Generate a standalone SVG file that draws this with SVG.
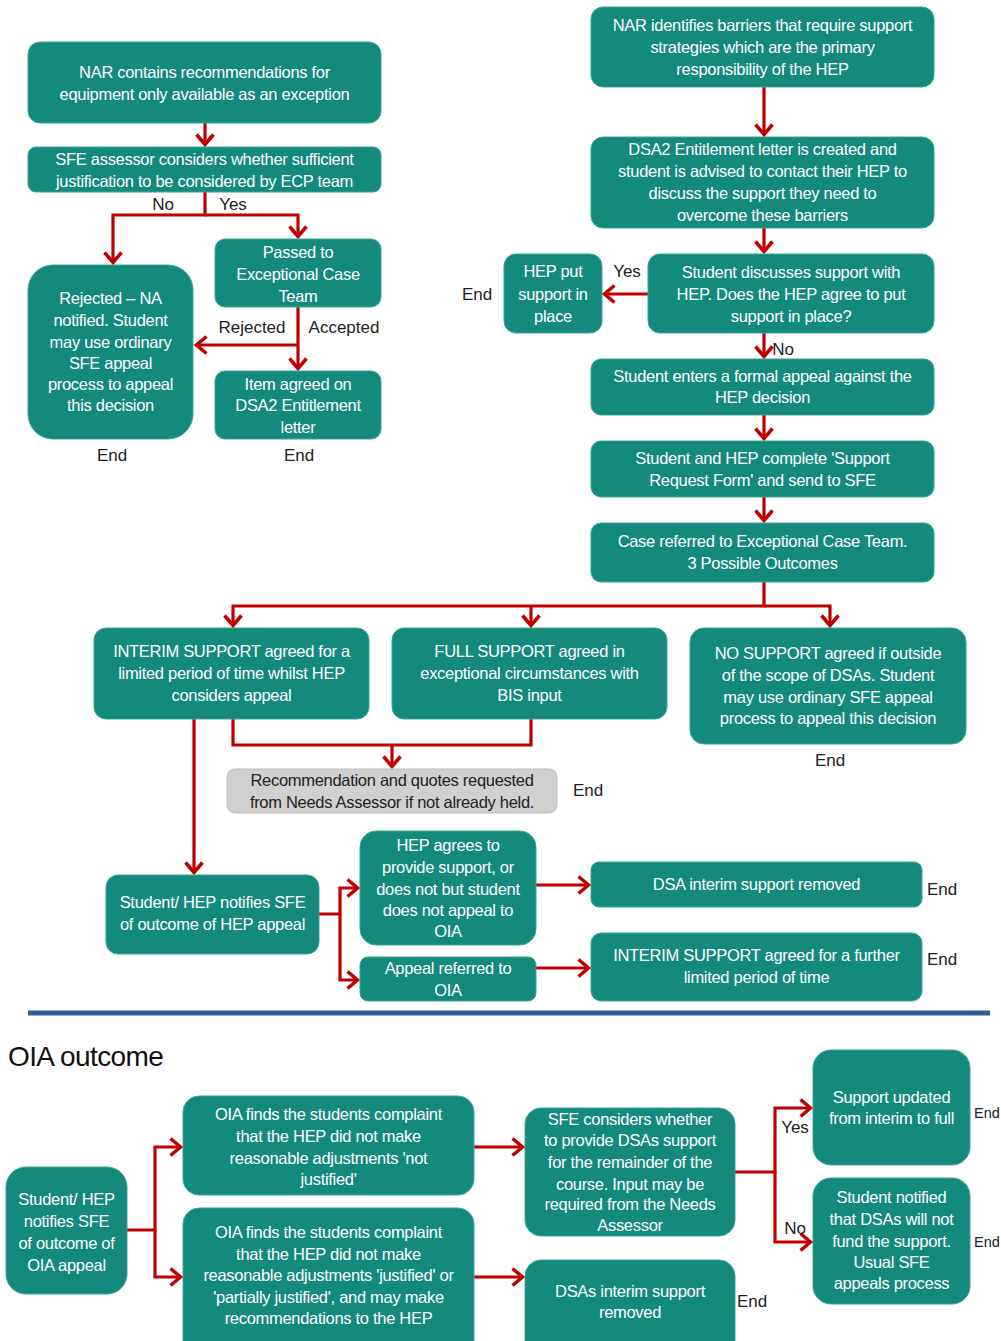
<svg xmlns="http://www.w3.org/2000/svg" width="1001" height="1341" viewBox="0 0 1001 1341">
<defs>
<marker id="arr" viewBox="0 0 15 20" markerWidth="15" markerHeight="20" refX="12.5" refY="10" orient="auto" markerUnits="userSpaceOnUse">
<path d="M2,1.5 L12,10 L2,18.5" fill="none" stroke="#C00000" stroke-width="3.5"/>
</marker>
</defs>
<style>
.b{fill:#138A7C;stroke:#3AA597;stroke-width:1}
.g{fill:#D0D0D0;stroke:#BDBDBD;stroke-width:1}
.t{font-family:"Liberation Sans",Arial,sans-serif;font-size:16.5px;fill:#FFFFFF;text-anchor:middle;letter-spacing:-0.3px}
.d{font-family:"Liberation Sans",Arial,sans-serif;font-size:16.5px;fill:#222222;text-anchor:middle;letter-spacing:-0.3px}
.l{font-family:"Liberation Sans",Arial,sans-serif;font-size:17px;fill:#222222;text-anchor:middle}
.c{fill:none;stroke:#C00000;stroke-width:3.2}
</style>
<rect width="1001" height="1341" fill="#FFFFFF"/>

<g id="connectors">
<path class="c" d="M205,123 V145" marker-end="url(#arr)"/>
<path class="c" d="M205,192 V215 H113 V263" marker-end="url(#arr)"/>
<path class="c" d="M205,215 H298 V237" marker-end="url(#arr)"/>
<path class="c" d="M298,307 V369" marker-end="url(#arr)"/>
<path class="c" d="M298,345 H196" marker-end="url(#arr)"/>
<path class="c" d="M764,87 V135" marker-end="url(#arr)"/>
<path class="c" d="M764,228 V252" marker-end="url(#arr)"/>
<path class="c" d="M648,294 H604" marker-end="url(#arr)"/>
<path class="c" d="M764,333 V357" marker-end="url(#arr)"/>
<path class="c" d="M764,415 V439" marker-end="url(#arr)"/>
<path class="c" d="M764,497 V521" marker-end="url(#arr)"/>
<path class="c" d="M764,582 V606 H233 V626" marker-end="url(#arr)"/>
<path class="c" d="M764,606 H830 V626" marker-end="url(#arr)"/>
<path class="c" d="M531,606 V626" marker-end="url(#arr)"/>
<path class="c" d="M233,719 V745 H531 V719"/>
<path class="c" d="M392,745 V767" marker-end="url(#arr)"/>
<path class="c" d="M194,719 V873" marker-end="url(#arr)"/>
<path class="c" d="M319,914 H340 V888 H358" marker-end="url(#arr)"/>
<path class="c" d="M340,914 V980 H358" marker-end="url(#arr)"/>
<path class="c" d="M536,885 H589" marker-end="url(#arr)"/>
<path class="c" d="M536,968 H589" marker-end="url(#arr)"/>
<path class="c" d="M127,1230 H155 V1147 H181" marker-end="url(#arr)"/>
<path class="c" d="M155,1230 V1277 H181" marker-end="url(#arr)"/>
<path class="c" d="M474,1147 H523" marker-end="url(#arr)"/>
<path class="c" d="M474,1277 H523" marker-end="url(#arr)"/>
<path class="c" d="M735,1172 H775 V1108 H811" marker-end="url(#arr)"/>
<path class="c" d="M775,1172 V1242 H811" marker-end="url(#arr)"/>
</g>

<g id="labels">
<text class="l" x="163" y="210">No</text>
<text class="l" x="233" y="210">Yes</text>
<text class="l" x="252" y="333">Rejected</text>
<text class="l" x="344" y="333">Accepted</text>
<text class="l" x="112" y="461">End</text>
<text class="l" x="299" y="461">End</text>
<text class="l" x="627" y="277">Yes</text>
<text class="l" x="477" y="300">End</text>
<text class="l" x="783" y="355">No</text>
<text class="l" x="830" y="766">End</text>
<text class="l" x="588" y="796">End</text>
<text class="l" x="942" y="895">End</text>
<text class="l" x="942" y="965">End</text>
<text class="l" x="752" y="1307">End</text>
<text class="l" x="795" y="1133">Yes</text>
<text class="l" x="795" y="1234">No</text>
<text class="l" x="974" y="1118" style="text-anchor:start;font-size:14.5px">End</text>
<text class="l" x="974" y="1247" style="text-anchor:start;font-size:14.5px">End</text>
</g>

<g id="nA"><rect class="b" x="28" y="42" width="353" height="81" rx="12"/>
<text class="t" x="204.5" y="78">NAR contains recommendations for</text>
<text class="t" x="204.5" y="100">equipment only available as an exception</text></g>

<g id="nB"><rect class="b" x="28" y="147" width="353" height="45" rx="8"/>
<text class="t" x="204.5" y="165">SFE assessor considers whether sufficient</text>
<text class="t" x="204.5" y="187">justification to be considered by ECP team</text></g>

<g id="nC"><rect class="b" x="215" y="239" width="166" height="68" rx="10"/>
<text class="t" x="298" y="258">Passed to</text>
<text class="t" x="298" y="280">Exceptional Case</text>
<text class="t" x="298" y="302">Team</text></g>

<g id="nD"><rect class="b" x="28" y="265" width="165" height="174" rx="25"/>
<text class="t" x="110.5" y="304">Rejected – NA</text>
<text class="t" x="110.5" y="326">notified. Student</text>
<text class="t" x="110.5" y="348">may use ordinary</text>
<text class="t" x="110.5" y="369">SFE appeal</text>
<text class="t" x="110.5" y="390">process to appeal</text>
<text class="t" x="110.5" y="411">this decision</text></g>

<g id="nE"><rect class="b" x="215" y="371" width="166" height="68" rx="10"/>
<text class="t" x="298" y="390">Item agreed on</text>
<text class="t" x="298" y="411">DSA2 Entitlement</text>
<text class="t" x="298" y="433">letter</text></g>

<g id="nF"><rect class="b" x="591" y="7" width="343" height="80" rx="12"/>
<text class="t" x="762.5" y="31">NAR identifies barriers that require support</text>
<text class="t" x="762.5" y="53">strategies which are the primary</text>
<text class="t" x="762.5" y="75">responsibility of the HEP</text></g>

<g id="nG"><rect class="b" x="591" y="137" width="343" height="91" rx="12"/>
<text class="t" x="762.5" y="155">DSA2 Entitlement letter is created and</text>
<text class="t" x="762.5" y="177">student is advised to contact their HEP to</text>
<text class="t" x="762.5" y="199">discuss the support they need to</text>
<text class="t" x="762.5" y="221">overcome these barriers</text></g>

<g id="nH"><rect class="b" x="648" y="254" width="286" height="79" rx="12"/>
<text class="t" x="791" y="278">Student discusses support with</text>
<text class="t" x="791" y="300">HEP. Does the HEP agree to put</text>
<text class="t" x="791" y="322">support in place?</text></g>

<g id="nI"><rect class="b" x="504" y="254" width="98" height="79" rx="12"/>
<text class="t" x="553" y="277">HEP put</text>
<text class="t" x="553" y="300">support in</text>
<text class="t" x="553" y="322">place</text></g>

<g id="nJ"><rect class="b" x="591" y="359" width="343" height="56" rx="10"/>
<text class="t" x="762.5" y="382">Student enters a formal appeal  against the</text>
<text class="t" x="762.5" y="403">HEP decision</text></g>

<g id="nK"><rect class="b" x="591" y="441" width="343" height="56" rx="10"/>
<text class="t" x="762.5" y="464">Student and HEP complete 'Support</text>
<text class="t" x="762.5" y="486">Request Form' and send to SFE</text></g>

<g id="nL"><rect class="b" x="591" y="523" width="343" height="59" rx="10"/>
<text class="t" x="762.5" y="547">Case referred to Exceptional Case Team.</text>
<text class="t" x="762.5" y="569">3 Possible Outcomes</text></g>

<g id="nM"><rect class="b" x="94" y="628" width="275" height="91" rx="12"/>
<text class="t" x="231.5" y="657">INTERIM  SUPPORT agreed for a</text>
<text class="t" x="231.5" y="679">limited period of time whilst HEP</text>
<text class="t" x="231.5" y="701">considers appeal</text></g>

<g id="nN"><rect class="b" x="392" y="628" width="275" height="91" rx="12"/>
<text class="t" x="529.5" y="657">FULL SUPPORT  agreed in</text>
<text class="t" x="529.5" y="679">exceptional circumstances with</text>
<text class="t" x="529.5" y="701">BIS input</text></g>

<g id="nO"><rect class="b" x="690" y="628" width="276" height="116" rx="14"/>
<text class="t" x="828" y="659">NO SUPPORT  agreed if outside</text>
<text class="t" x="828" y="681">of the scope of DSAs. Student</text>
<text class="t" x="828" y="703">may use ordinary SFE appeal</text>
<text class="t" x="828" y="724">process to appeal this decision</text></g>

<g id="nP"><rect class="g" x="227" y="769" width="330" height="44" rx="8"/>
<text class="d" x="392" y="786">Recommendation and quotes requested</text>
<text class="d" x="392" y="808">from Needs Assessor if not already held.</text></g>

<g id="nQ"><rect class="b" x="106" y="875" width="213" height="79" rx="12"/>
<text class="t" x="212.5" y="908">Student/ HEP notifies SFE</text>
<text class="t" x="212.5" y="930">of outcome of HEP appeal</text></g>

<g id="nR"><rect class="b" x="360" y="831" width="176" height="114" rx="16"/>
<text class="t" x="448" y="851">HEP agrees to</text>
<text class="t" x="448" y="873">provide support, or</text>
<text class="t" x="448" y="895">does not but student</text>
<text class="t" x="448" y="916">does not appeal to</text>
<text class="t" x="448" y="937">OIA</text></g>

<g id="nS"><rect class="b" x="360" y="957" width="176" height="44" rx="8"/>
<text class="t" x="448" y="974">Appeal referred to</text>
<text class="t" x="448" y="996">OIA</text></g>

<g id="nT"><rect class="b" x="591" y="862" width="331" height="45" rx="8"/>
<text class="t" x="756.5" y="890">DSA interim support removed</text></g>

<g id="nU"><rect class="b" x="591" y="933" width="331" height="68" rx="10"/>
<text class="t" x="756.5" y="961">INTERIM  SUPPORT agreed for a further</text>
<text class="t" x="756.5" y="983">limited period of time</text></g>

<line x1="28" y1="1013" x2="990" y2="1013" stroke="#2F5B96" stroke-width="5"/>
<text x="8" y="1066" style="font-family:'Liberation Sans',Arial,sans-serif;font-size:28px;fill:#111111;letter-spacing:-0.6px">OIA outcome</text>

<g id="nV"><rect class="b" x="6" y="1167" width="121" height="127" rx="20"/>
<text class="t" x="66.5" y="1205">Student/ HEP</text>
<text class="t" x="66.5" y="1227">notifies SFE</text>
<text class="t" x="66.5" y="1249">of outcome of</text>
<text class="t" x="66.5" y="1271">OIA  appeal</text></g>

<g id="nW"><rect class="b" x="183" y="1096" width="291" height="99" rx="16"/>
<text class="t" x="328.5" y="1120">OIA finds the students complaint</text>
<text class="t" x="328.5" y="1142">that the HEP did not make</text>
<text class="t" x="328.5" y="1164">reasonable adjustments 'not</text>
<text class="t" x="328.5" y="1185">justified'</text></g>

<g id="nX"><rect class="b" x="183" y="1208" width="291" height="150" rx="16"/>
<text class="t" x="328.5" y="1238">OIA finds the students complaint</text>
<text class="t" x="328.5" y="1260">that the HEP did not make</text>
<text class="t" x="328.5" y="1281">reasonable adjustments 'justified' or</text>
<text class="t" x="328.5" y="1303">'partially justified', and may make</text>
<text class="t" x="328.5" y="1324">recommendations to the HEP</text></g>

<g id="nY"><rect class="b" x="525" y="1108" width="210" height="128" rx="16"/>
<text class="t" x="630" y="1125">SFE considers whether</text>
<text class="t" x="630" y="1146">to provide DSAs support</text>
<text class="t" x="630" y="1168">for the remainder of the</text>
<text class="t" x="630" y="1190">course. Input may be</text>
<text class="t" x="630" y="1210">required from the Needs</text>
<text class="t" x="630" y="1231">Assessor</text></g>

<g id="nZ"><rect class="b" x="525" y="1260" width="210" height="100" rx="16"/>
<text class="t" x="630" y="1297">DSAs interim support</text>
<text class="t" x="630" y="1318">removed</text></g>

<g id="nAA"><rect class="b" x="813" y="1050" width="157" height="115" rx="18"/>
<text class="t" x="891.5" y="1103">Support updated</text>
<text class="t" x="891.5" y="1124">from interim to full</text></g>

<g id="nAB"><rect class="b" x="813" y="1178" width="157" height="126" rx="18"/>
<text class="t" x="891.5" y="1203">Student notified</text>
<text class="t" x="891.5" y="1225">that DSAs will not</text>
<text class="t" x="891.5" y="1247">fund the support.</text>
<text class="t" x="891.5" y="1268">Usual SFE</text>
<text class="t" x="891.5" y="1289">appeals process</text></g>
</svg>
